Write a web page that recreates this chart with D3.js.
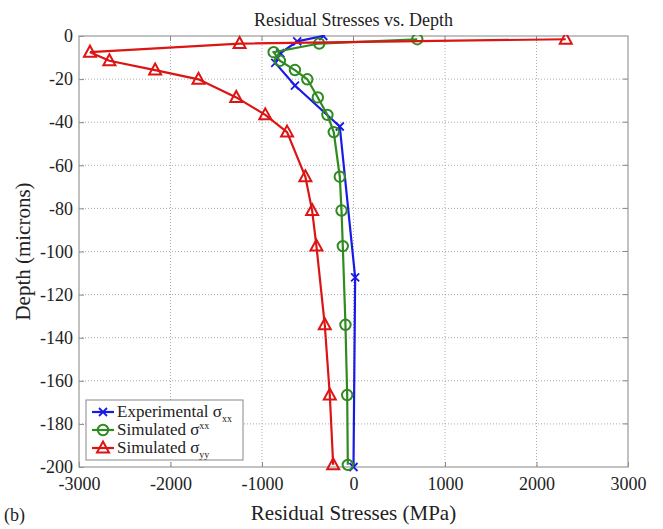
<!DOCTYPE html>
<html>
<head>
<meta charset="utf-8">
<script src="https://cdn.jsdelivr.net/npm/d3@7"></script>
<style>
  body { margin: 0; background: #fff; }
  svg text { font-family: "Liberation Serif", "Times New Roman", "DejaVu Serif", serif; fill: #222; }
</style>
</head>
<body>
<div id="vis"></div>
<script>
// experimental sigma_xx (blue)
const expStress = [-330, -615, -800, -855, -640, -150, 18, 0];
const expDepth  = [0, -2.5, -8, -12.5, -23, -42, -112, -200];

// simulated sigma_xx (green)
const simXxStress = [697, -375, -873, -805, -640, -505, -390, -285, -216, -150, -131, -117, -88, -69, -62];
// simulated sigma_yy (red)
const simYyStress = [2320, -1245, -2880, -2668, -2168, -1694, -1281, -964, -726, -526, -452, -405, -314, -259, -222];
const simDepth = [-1.5, -3.5, -7.5, -11.5, -15.8, -20.1, -28.5, -36.6, -44.6, -65.3, -81, -97.5, -134, -166.6, -199];

const xTicks = [-3000, -2000, -1000, 0, 1000, 2000, 3000];
const yTicks = [0, -20, -40, -60, -80, -100, -120, -140, -160, -180, -200];

const width = 663, height = 529;
const margin = {top: 36, right: 35, bottom: 62, left: 79};
const serif = '"Liberation Serif", "Times New Roman", serif';

const svg = d3.select("#vis")
    .append("svg")
    .attr("width", width)
    .attr("height", height)
    .attr("font-family", serif);

const x = d3.scaleLinear().domain([-3000, 3000]).range([margin.left, width - margin.right]);
const y = d3.scaleLinear().domain([0, -200]).range([margin.top, height - margin.bottom]);

// dotted grid
svg.append("g")
    .selectAll("line")
    .data(xTicks.slice(1, -1))
    .join("line")
    .attr("x1", d => x(d)).attr("x2", d => x(d))
    .attr("y1", y(0)).attr("y2", y(-200))
    .attr("stroke", "#aaa")
    .attr("stroke-dasharray", "1,2");

svg.append("g")
    .selectAll("line")
    .data(yTicks.slice(1, -1))
    .join("line")
    .attr("x1", x(-3000)).attr("x2", x(3000))
    .attr("y1", d => y(d)).attr("y2", d => y(d))
    .attr("stroke", "#aaa")
    .attr("stroke-dasharray", "1,2");

// axes, ticks pointing inwards; plain hyphen minus like the original
const fmt = d => String(d);
const xAxis = svg.append("g")
    .attr("transform", "translate(0," + y(-200) + ")")
    .call(d3.axisBottom(x).tickValues(xTicks).tickFormat(fmt).tickSizeInner(-5).tickSizeOuter(0).tickPadding(10));
const yAxis = svg.append("g")
    .attr("transform", "translate(" + x(-3000) + ",0)")
    .call(d3.axisLeft(y).tickValues(yTicks).tickFormat(fmt).tickSizeInner(-5).tickSizeOuter(0).tickPadding(6));

[xAxis, yAxis].forEach(a => {
  a.attr("font-family", serif).attr("font-size", 18);
  a.select(".domain").remove();
  a.selectAll("line").attr("stroke", "#888");
  a.selectAll("text").attr("fill", "#222");
});

// frame
svg.append("rect")
    .attr("x", x(-3000)).attr("y", y(0))
    .attr("width", x(3000) - x(-3000))
    .attr("height", y(-200) - y(0))
    .attr("fill", "none")
    .attr("stroke", "#999")
    .attr("stroke-width", 1.2);

// top/right ticks
svg.append("g").selectAll("line").data(xTicks.slice(1, -1)).join("line")
    .attr("x1", d => x(d)).attr("x2", d => x(d))
    .attr("y1", y(0)).attr("y2", y(0) + 5)
    .attr("stroke", "#888");
svg.append("g").selectAll("line").data(yTicks.slice(1, -1)).join("line")
    .attr("x1", x(3000)).attr("x2", x(3000) - 5)
    .attr("y1", d => y(d)).attr("y2", d => y(d))
    .attr("stroke", "#888");

const line = d3.line().x(d => x(d[0])).y(d => y(d[1]));

const series = [
  {name: "exp", color: "#1a1ae6", pts: d3.zip(expStress, expDepth), marker: "cross"},
  {name: "xx", color: "#2f8a20", pts: d3.zip(simXxStress, simDepth), marker: "circle"},
  {name: "yy", color: "#dd1414", pts: d3.zip(simYyStress, simDepth), marker: "triangle"}
];

function drawMarker(g, type, color) {
  if (type === "circle") {
    g.append("circle").attr("r", 5.2)
        .attr("fill", "none").attr("stroke", color).attr("stroke-width", 2);
  } else if (type === "triangle") {
    g.append("path").attr("d", "M0,-6.5L6,4.5L-6,4.5Z")
        .attr("fill", "none").attr("stroke", color).attr("stroke-width", 2);
  } else {
    g.append("path").attr("d", "M-4,-4L4,4M-4,4L4,-4")
        .attr("stroke", color).attr("stroke-width", 1.8);
  }
}

svg.append("clipPath").attr("id", "plotclip")
    .append("rect")
    .attr("x", x(-3000) - 10).attr("y", y(0) - 1)
    .attr("width", x(3000) - x(-3000) + 20)
    .attr("height", y(-200) - y(0) + 12);

// red drawn last, it sits on top near the surface in the original
series.forEach(s => {
  const g = svg.append("g").attr("clip-path", "url(#plotclip)");
  g.append("path")
      .attr("d", line(s.pts))
      .attr("fill", "none")
      .attr("stroke", s.color)
      .attr("stroke-width", 2.2);
  g.selectAll("g.m")
      .data(s.pts)
      .join("g")
      .attr("class", "m")
      .attr("transform", d => "translate(" + x(d[0]) + "," + y(d[1]) + ")")
      .each(function () { drawMarker(d3.select(this), s.marker, s.color); });
});

// legend
const legend = svg.append("g").attr("transform", "translate(86,400)");
legend.append("rect")
    .attr("width", 157).attr("height", 60)
    .attr("fill", "#fff").attr("stroke", "#888");

const legendItems = [
  {label: "Experimental σ", sub: "xx", sup: false, s: series[0]},
  {label: "Simulated σ", sub: "xx", sup: true, s: series[1]},
  {label: "Simulated σ", sub: "yy", sup: false, s: series[2]}
];

legendItems.forEach((it, i) => {
  const row = legend.append("g").attr("transform", "translate(0," + (12 + i * 18) + ")");
  row.append("line").attr("x1", 6).attr("x2", 28).attr("y1", 0).attr("y2", 0)
      .attr("stroke", it.s.color).attr("stroke-width", 2.2);
  const m = row.append("g").attr("transform", "translate(17,0)");
  drawMarker(m, it.s.marker, it.s.color);
  const t = row.append("text").attr("x", 31).attr("y", 5).attr("font-size", 17);
  t.append("tspan").text(it.label);
  t.append("tspan")
      .attr("dy", it.sup ? -6 : 5)
      .attr("font-size", 10)
      .text(it.sub);
});

// title and labels
svg.append("text")
    .attr("x", x(0)).attr("y", 26)
    .attr("text-anchor", "middle")
    .attr("font-size", 18)
    .text("Residual Stresses vs. Depth");

svg.append("text")
    .attr("x", x(0)).attr("y", 520)
    .attr("text-anchor", "middle")
    .attr("font-size", 21)
    .text("Residual Stresses (MPa)");

svg.append("text")
    .attr("transform", "translate(30," + ((y(0) + y(-200)) / 2) + ") rotate(-90)")
    .attr("text-anchor", "middle")
    .attr("font-size", 21)
    .text("Depth (microns)");

svg.append("text")
    .attr("x", 4).attr("y", 521)
    .attr("font-size", 18)
    .text("(b)");
</script>
</body>
</html>
